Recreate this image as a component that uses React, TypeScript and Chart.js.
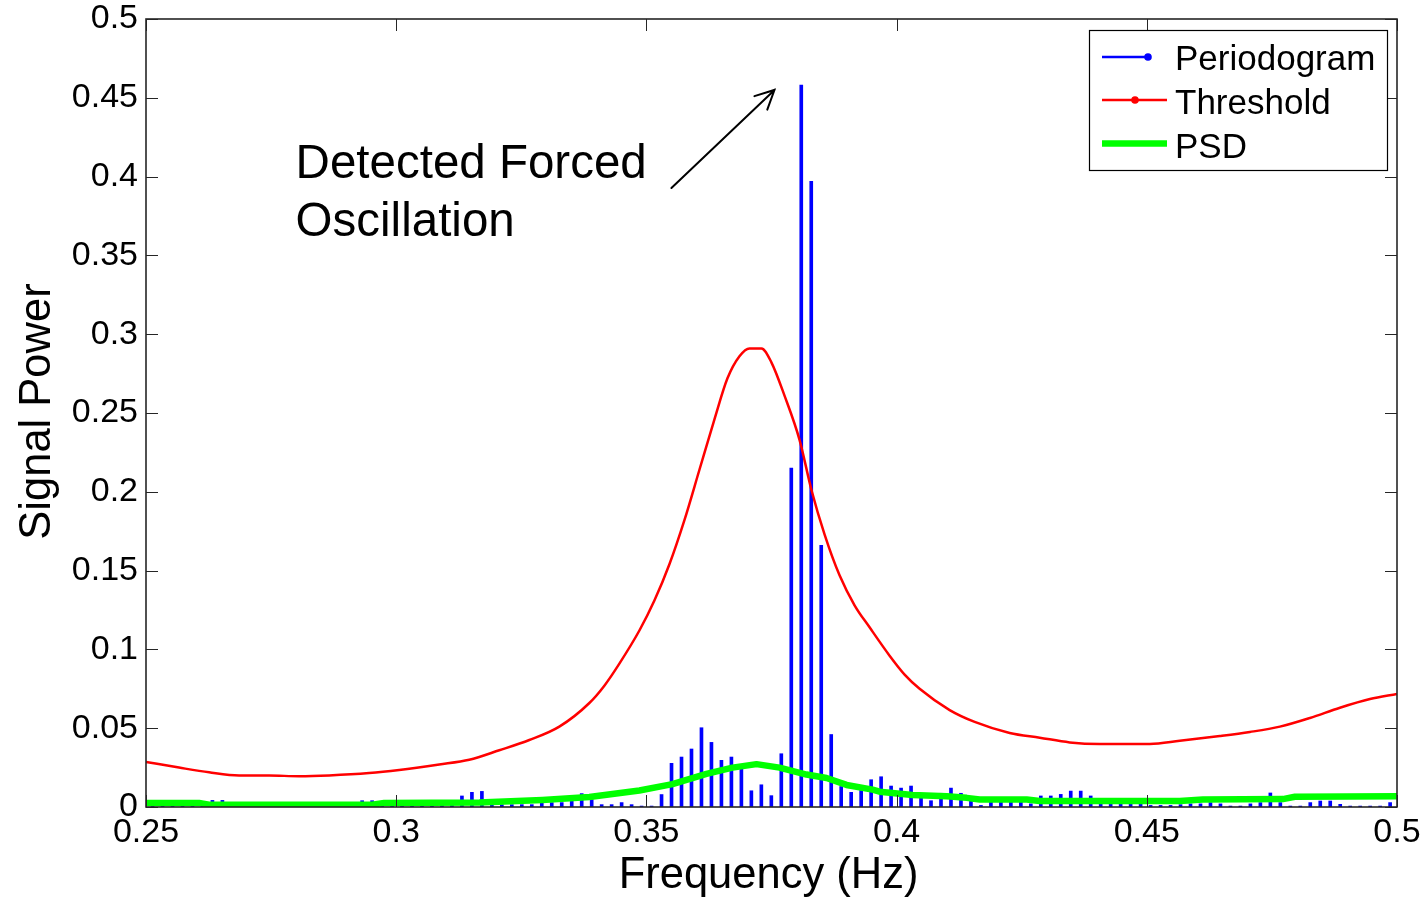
import React, { useEffect, useRef } from 'react';
import { Chart, registerables } from 'chart.js';

Chart.register(...registerables);

// Periodogram bins: frequency = (FIRST_BIN + i) * FREQ_STEP
const FIRST_BIN = 126;
const FREQ_STEP = 0.0019945;
const PERIODOGRAM = [
  0.001, 0.001, 0.0015, 0.001, 0.0015, 0.002, 0.0042, 0.0042, 0.0015, 0.001,
  0.001, 0.0015, 0.001, 0.001, 0.0015, 0.001, 0.001, 0.0015, 0.001, 0.0015,
  0.002, 0.004, 0.004, 0.0015, 0.002, 0.0015, 0.002, 0.0015, 0.002, 0.0025,
  0.003, 0.007, 0.0093, 0.0099, 0.0021, 0.0015, 0.0015, 0.0015, 0.0015, 0.0028,
  0.0028, 0.0028, 0.0036, 0.0085, 0.0047, 0.0015, 0.0015, 0.0028, 0.0015, 0.0006,
  0.0006, 0.0079, 0.0277, 0.0317, 0.0368, 0.0503, 0.041, 0.0296, 0.0317, 0.0258,
  0.0103, 0.0141, 0.0072, 0.0338, 0.215, 0.458, 0.397, 0.166, 0.046, 0.013,
  0.0093, 0.0105, 0.0173, 0.0192, 0.0133, 0.012, 0.0133, 0.006, 0.004, 0.0087,
  0.012, 0.0087, 0.0036, 0.001, 0.0036, 0.0036, 0.0036, 0.0033, 0.002, 0.007,
  0.007, 0.008, 0.0101, 0.0101, 0.007, 0.002, 0.002, 0.002, 0.002, 0.002,
  0.001, 0.001, 0.001, 0.0015, 0.002, 0.002, 0.0028, 0.002, 0.0006, 0.0006,
  0.002, 0.0028, 0.0089, 0.0028, 0.0006, 0.0006, 0.0028, 0.0038, 0.0038, 0.0017,
  0.0006, 0.0006, 0.0006, 0.0006, 0.0028,
];

const THRESHOLD_FREQ = [
  0.25, 0.2566, 0.2626, 0.2686, 0.2746, 0.2806, 0.2866, 0.2946, 0.3006, 0.3086,
  0.3146, 0.3206, 0.3266, 0.3326, 0.3386, 0.3416, 0.3446, 0.3486, 0.3516, 0.3546,
  0.3576, 0.3606, 0.3636, 0.3662, 0.3686, 0.3706, 0.373, 0.375, 0.3776, 0.3806,
  0.383, 0.3856, 0.3886, 0.3916, 0.3946, 0.3986, 0.4016, 0.4046, 0.4106, 0.4156,
  0.4226, 0.4286, 0.4346, 0.4406, 0.4506, 0.4566, 0.4646, 0.4706, 0.4766, 0.4826,
  0.4886, 0.4946, 0.5,
];
const THRESHOLD = [
  0.0286, 0.025, 0.022, 0.02, 0.02, 0.0195, 0.02, 0.0215, 0.0235, 0.027,
  0.03, 0.036, 0.0425, 0.051, 0.066, 0.077, 0.091, 0.112, 0.131, 0.154,
  0.182, 0.214, 0.246, 0.272, 0.286, 0.291, 0.291, 0.282, 0.261, 0.233,
  0.201, 0.173, 0.147, 0.128, 0.114, 0.096, 0.084, 0.075, 0.0615, 0.054,
  0.047, 0.044, 0.041, 0.04, 0.04, 0.042, 0.045, 0.0476, 0.051, 0.0565,
  0.063, 0.0685, 0.0717,
];

const PSD_FREQ = [
  0.25, 0.2606, 0.2626, 0.2952, 0.2976, 0.3166, 0.3292, 0.3386, 0.3486, 0.3552,
  0.362, 0.3672, 0.372, 0.3766, 0.382, 0.386, 0.39, 0.3952, 0.3966, 0.4032,
  0.41, 0.414, 0.4166, 0.426, 0.4286, 0.4566, 0.4612, 0.4772, 0.4796, 0.5,
];
const PSD = [
  0.0026, 0.0026, 0.0015, 0.0015, 0.0026, 0.0028, 0.0045, 0.0064, 0.0105, 0.0145,
  0.021, 0.025, 0.0272, 0.025, 0.0206, 0.0184, 0.014, 0.011, 0.0097, 0.0076,
  0.0068, 0.0058, 0.0048, 0.0048, 0.0038, 0.0038, 0.0047, 0.005, 0.0065, 0.0069,
];

const X_TICKS = [0.25, 0.3, 0.35, 0.4, 0.45, 0.5];
const Y_TICKS = [0, 0.05, 0.1, 0.15, 0.2, 0.25, 0.3, 0.35, 0.4, 0.45, 0.5];
const LEGEND_LABELS = ['Periodogram', 'Threshold', 'PSD'];
const X_TITLE = 'Frequency (Hz)';
const Y_TITLE = 'Signal Power';
const ANNOTATION_LINES = ['Detected Forced', 'Oscillation'];
const ANNOTATION_AT = [0.2799, 0.3989]; // data coords of first text baseline start
const ARROW_FROM = [0.355, 0.3928];
const ARROW_TO = [0.3756, 0.455];

const FONT = '"Liberation Sans", Arial, Helvetica, sans-serif';
const fmt = (v: number) => String(parseFloat(Number(v).toFixed(2)));

const decor = {
  id: 'decor',
  afterDatasetsDraw(chart: any) {
    const { ctx, chartArea: a, scales } = chart;
    const x = scales.x;
    const y = scales.y;
    ctx.save();
    ctx.strokeStyle = '#262626';
    ctx.lineWidth = 1;
    ctx.beginPath();
    const TL = 12;
    X_TICKS.forEach((v) => {
      const px = Math.round(x.getPixelForValue(v)) + 0.5;
      ctx.moveTo(px, a.bottom);
      ctx.lineTo(px, a.bottom - TL);
      ctx.moveTo(px, a.top);
      ctx.lineTo(px, a.top + TL);
    });
    Y_TICKS.forEach((v) => {
      const py = Math.round(y.getPixelForValue(v)) + 0.5;
      ctx.moveTo(a.left, py);
      ctx.lineTo(a.left + TL, py);
      ctx.moveTo(a.right, py);
      ctx.lineTo(a.right - TL, py);
    });
    ctx.stroke();
    ctx.lineWidth = 1.6;
    ctx.strokeRect(a.left, a.top, a.right - a.left, a.bottom - a.top);
    ctx.restore();
  },
  afterDraw(chart: any) {
    const { ctx, chartArea: a, scales } = chart;
    const x = scales.x;
    const y = scales.y;
    ctx.save();
    ctx.fillStyle = '#000';
    // axis titles
    ctx.font = `43.5px ${FONT}`;
    ctx.textAlign = 'center';
    ctx.textBaseline = 'alphabetic';
    ctx.fillText(X_TITLE, 768.5, 888);
    ctx.save();
    ctx.translate(50, 411.5);
    ctx.rotate(-Math.PI / 2);
    ctx.fillText(Y_TITLE, 0, 0);
    ctx.restore();

    // annotation
    ctx.font = `47.5px ${FONT}`;
    ctx.textAlign = 'left';
    const ax = x.getPixelForValue(ANNOTATION_AT[0]);
    const ay = y.getPixelForValue(ANNOTATION_AT[1]);
    ANNOTATION_LINES.forEach((t, i) => ctx.fillText(t, ax, ay + i * 58));

    // arrow
    const x0 = x.getPixelForValue(ARROW_FROM[0]);
    const y0 = y.getPixelForValue(ARROW_FROM[1]);
    const x1 = x.getPixelForValue(ARROW_TO[0]);
    const y1 = y.getPixelForValue(ARROW_TO[1]);
    ctx.strokeStyle = '#000';
    ctx.lineWidth = 2;
    ctx.lineCap = 'round';
    ctx.beginPath();
    ctx.moveTo(x0, y0);
    ctx.lineTo(x1, y1);
    const ang = Math.atan2(y0 - y1, x0 - x1);
    const hl = 21;
    const spread = 0.46;
    ctx.moveTo(x1 + hl * Math.cos(ang + spread), y1 + hl * Math.sin(ang + spread));
    ctx.lineTo(x1, y1);
    ctx.lineTo(x1 + hl * Math.cos(ang - spread), y1 + hl * Math.sin(ang - spread));
    ctx.stroke();

    // legend
    const bx = 1089.5, by = 30.5, bw = 298, bh = 140;
    ctx.fillStyle = '#fff';
    ctx.fillRect(bx, by, bw, bh);
    ctx.strokeStyle = '#000';
    ctx.lineWidth = 1.2;
    ctx.lineCap = 'butt';
    ctx.strokeRect(bx, by, bw, bh);
    const rows = [57, 100, 143.5];
    const colors = ['#0000ff', '#ff0000', '#00ff00'];
    ctx.lineWidth = 2.5;
    ctx.strokeStyle = colors[0];
    ctx.beginPath();
    ctx.moveTo(1102, rows[0]);
    ctx.lineTo(1148, rows[0]);
    ctx.stroke();
    ctx.fillStyle = colors[0];
    ctx.beginPath();
    ctx.arc(1148, rows[0], 3.8, 0, Math.PI * 2);
    ctx.fill();
    ctx.strokeStyle = colors[1];
    ctx.beginPath();
    ctx.moveTo(1102, rows[1]);
    ctx.lineTo(1167, rows[1]);
    ctx.stroke();
    ctx.fillStyle = colors[1];
    ctx.beginPath();
    ctx.arc(1135, rows[1], 3.8, 0, Math.PI * 2);
    ctx.fill();
    ctx.strokeStyle = colors[2];
    ctx.lineWidth = 6.5;
    ctx.beginPath();
    ctx.moveTo(1102, rows[2]);
    ctx.lineTo(1167, rows[2]);
    ctx.stroke();
    ctx.fillStyle = '#000';
    ctx.font = `35px ${FONT}`;
    ctx.textAlign = 'left';
    ctx.textBaseline = 'alphabetic';
    const baselines = [69.5, 113.5, 158];
    LEGEND_LABELS.forEach((t, i) => ctx.fillText(t, 1175, baselines[i]));
    ctx.restore();
  },
};

export default function App() {
  const ref = useRef<HTMLCanvasElement | null>(null);
  useEffect(() => {
    if (!ref.current) return;
    const chart = new Chart(ref.current, {
      type: 'bar',
      data: {
        datasets: [
          {
            type: 'line',
            label: LEGEND_LABELS[2],
            data: PSD_FREQ.map((f, i) => ({ x: f, y: PSD[i] })),
            borderColor: '#00ff00',
            backgroundColor: '#00ff00',
            borderWidth: 6.5,
            pointRadius: 0,
            tension: 0,
            borderJoinStyle: 'round',
            borderCapStyle: 'round',
            order: 0,
          } as any,
          {
            type: 'line',
            label: LEGEND_LABELS[1],
            data: THRESHOLD_FREQ.map((f, i) => ({ x: f, y: THRESHOLD[i] })),
            borderColor: '#ff0000',
            backgroundColor: '#ff0000',
            borderWidth: 2.5,
            pointRadius: 0,
            cubicInterpolationMode: 'monotone',
            borderJoinStyle: 'round',
            order: 1,
          } as any,
          {
            type: 'bar',
            label: LEGEND_LABELS[0],
            data: PERIODOGRAM.map((v, i) => ({ x: (FIRST_BIN + i) * FREQ_STEP, y: v })),
            backgroundColor: '#0000ff',
            borderWidth: 0,
            barThickness: 3,
            order: 2,
          } as any,
        ],
      },
      options: {
        animation: false,
        responsive: false,
        devicePixelRatio: 1,
        layout: { padding: { top: 19, right: 31, left: 0, bottom: 0 } },
        plugins: { legend: { display: false }, tooltip: { enabled: false } },
        scales: {
          x: {
            type: 'linear',
            min: 0.25,
            max: 0.5,
            offset: false,
            grid: { display: false, drawTicks: false },
            border: { display: false },
            afterBuildTicks: (s: any) => {
              s.ticks = X_TICKS.map((v) => ({ value: v }));
            },
            afterFit: (s: any) => {
              s.height = 96;
              s.paddingLeft = 0;
              s.paddingRight = 0;
              s.paddingTop = 0;
              s.paddingBottom = 0;
            },
            ticks: {
              autoSkip: false,
              maxRotation: 0,
              padding: 9,
              color: '#000',
              font: { family: FONT, size: 34, lineHeight: 1 },
              callback: (v: any) => fmt(v),
            },
          },
          y: {
            type: 'linear',
            min: 0,
            max: 0.5,
            grid: { display: false, drawTicks: false },
            border: { display: false },
            afterBuildTicks: (s: any) => {
              s.ticks = Y_TICKS.map((v) => ({ value: v }));
            },
            afterFit: (s: any) => {
              s.width = 146;
              s.paddingLeft = 0;
              s.paddingRight = 0;
              s.paddingTop = 0;
              s.paddingBottom = 0;
            },
            ticks: {
              autoSkip: false,
              padding: 8,
              color: '#000',
              font: { family: FONT, size: 34, lineHeight: 1 },
              callback: (v: any) => fmt(v),
            },
          },
        },
      } as any,
      plugins: [decor],
    });
    return () => chart.destroy();
  }, []);
  return (
    <div style={{ position: 'absolute', left: 0, top: 0, width: 1428, height: 903, background: '#fff' }}>
      <canvas ref={ref} width={1428} height={903} style={{ display: 'block', width: 1428, height: 903 }} />
    </div>
  );
}
